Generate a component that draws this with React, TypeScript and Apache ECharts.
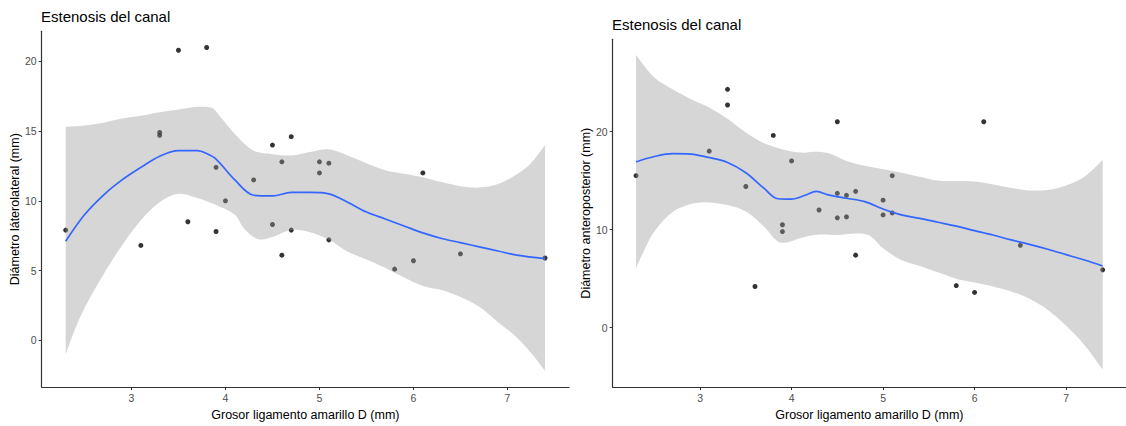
import React, { useEffect, useRef } from "react";
import * as echarts from "echarts";

const TITLE_TEXT = "Estenosis del canal";
const X_AXIS_NAME = "Grosor ligamento amarillo D (mm)";
const LEFT_Y_NAME = "Diámetro láterolateral (mm)";
const RIGHT_Y_NAME = "Diámetro anteroposterior (mm)";

const xTicks = [3, 4, 5, 6, 7];
const leftYTicks = [0, 5, 10, 15, 20];
const rightYTicks = [0, 10, 20];

const leftPoints: [number, number][] = [
  [2.3, 7.9], [3.1, 6.8], [3.3, 14.9], [3.3, 14.7], [3.5, 20.8], [3.6, 8.5],
  [3.8, 21.0], [3.9, 12.4], [3.9, 7.8], [4.0, 10.0], [4.3, 11.5], [4.5, 14.0],
  [4.5, 8.3], [4.6, 12.8], [4.6, 6.1], [4.7, 14.6], [4.7, 7.9], [5.0, 12.8],
  [5.0, 12.0], [5.1, 12.7], [5.1, 7.2], [5.8, 5.1], [6.0, 5.7], [6.1, 12.0],
  [6.5, 6.2], [7.4, 5.9],
];

const leftFit: [number, number][] = [
  [2.3, 7.1], [2.5, 9.0], [2.7, 10.4], [2.9, 11.5], [3.1, 12.4], [3.3, 13.2],
  [3.5, 13.6], [3.7, 13.6], [3.8, 13.4], [3.9, 13.0], [4.1, 11.5], [4.3, 10.4],
  [4.5, 10.35], [4.7, 10.6], [4.9, 10.6], [5.1, 10.5], [5.3, 9.9], [5.5, 9.2],
  [5.7, 8.7], [5.9, 8.2], [6.1, 7.7], [6.3, 7.3], [6.5, 7.0], [6.7, 6.7],
  [6.9, 6.4], [7.1, 6.1], [7.4, 5.85],
];

const leftUpper: [number, number][] = [
  [2.3, 15.3], [2.5, 15.4], [2.7, 15.6], [2.9, 15.9], [3.1, 16.1], [3.3, 16.35],
  [3.5, 16.55], [3.7, 16.75], [3.85, 16.7], [3.95, 16.0], [4.1, 14.8], [4.3, 13.6],
  [4.5, 13.35], [4.7, 13.25], [4.9, 13.5], [5.1, 13.7], [5.3, 13.25], [5.5, 12.7],
  [5.7, 12.2], [5.9, 11.95], [6.1, 11.7], [6.3, 11.35], [6.5, 11.05], [6.7, 10.95],
  [6.9, 11.2], [7.1, 11.9], [7.25, 12.7], [7.4, 14.0],
];

const leftLower: [number, number][] = [
  [2.3, -1.0], [2.4, 0.8], [2.5, 2.3], [2.7, 4.7], [2.9, 6.8], [3.1, 8.6],
  [3.3, 9.9], [3.5, 10.5], [3.7, 10.2], [3.9, 9.7], [4.1, 9.0], [4.2, 8.0],
  [4.35, 7.25], [4.5, 7.4], [4.7, 7.9], [4.9, 7.75], [5.1, 7.2], [5.3, 6.35],
  [5.5, 5.8], [5.7, 5.2], [5.9, 4.5], [6.1, 3.9], [6.3, 3.6], [6.5, 3.1],
  [6.7, 2.4], [6.9, 1.3], [7.1, 0.2], [7.25, -0.9], [7.4, -2.2],
];

const rightPoints: [number, number][] = [
  [2.3, 15.5], [3.1, 18.0], [3.3, 24.3], [3.3, 22.7], [3.5, 14.4], [3.6, 4.2],
  [3.8, 19.6], [3.9, 10.5], [3.9, 9.8], [4.0, 17.0], [4.3, 12.0], [4.5, 21.0],
  [4.5, 13.7], [4.5, 11.2], [4.6, 13.5], [4.6, 11.3], [4.7, 13.9], [4.7, 7.4],
  [5.0, 13.0], [5.0, 11.5], [5.1, 15.5], [5.1, 11.7], [5.8, 4.3], [6.0, 3.6],
  [6.1, 21.0], [6.5, 8.4], [7.4, 5.9],
];

const rightFit: [number, number][] = [
  [2.3, 16.9], [2.5, 17.45], [2.7, 17.75], [2.9, 17.7], [3.1, 17.35], [3.3, 16.85],
  [3.5, 15.8], [3.7, 14.2], [3.85, 13.15], [4.0, 13.1], [4.15, 13.5], [4.27, 13.9],
  [4.4, 13.55], [4.6, 13.2], [4.8, 12.85], [5.0, 12.1], [5.2, 11.5], [5.4, 11.15],
  [5.6, 10.75], [5.8, 10.35], [6.0, 9.9], [6.2, 9.45], [6.4, 8.95], [6.6, 8.5],
  [6.8, 8.0], [7.0, 7.45], [7.2, 6.9], [7.4, 6.3],
];

const rightUpper: [number, number][] = [
  [2.3, 27.8], [2.5, 25.5], [2.7, 24.3], [2.9, 23.3], [3.1, 22.45], [3.3, 21.3],
  [3.5, 19.9], [3.7, 18.8], [3.9, 18.2], [4.1, 17.85], [4.25, 17.95], [4.4, 17.8],
  [4.6, 17.0], [4.8, 16.5], [5.0, 16.15], [5.2, 15.8], [5.4, 15.4], [5.6, 15.0],
  [5.8, 14.95], [6.0, 14.9], [6.2, 14.6], [6.4, 14.25], [6.6, 14.0], [6.8, 14.05],
  [7.0, 14.5], [7.2, 15.4], [7.4, 17.1],
];

const rightLower: [number, number][] = [
  [2.3, 6.1], [2.4, 8.1], [2.5, 9.8], [2.7, 11.8], [2.9, 12.6], [3.05, 12.8],
  [3.3, 12.5], [3.5, 11.85], [3.7, 10.3], [3.85, 8.8], [3.95, 8.7], [4.1, 9.15],
  [4.3, 9.5], [4.5, 9.45], [4.7, 9.6], [4.85, 9.4], [5.0, 8.1], [5.2, 6.9],
  [5.4, 6.3], [5.6, 5.65], [5.8, 5.0], [6.0, 4.6], [6.2, 4.2], [6.4, 3.7],
  [6.6, 2.95], [6.8, 1.8], [7.0, 0.2], [7.2, -1.75], [7.4, -4.25],
];

const FONT = "'Liberation Sans', Arial, sans-serif";
const AXIS_COLOR = "#333333";
const TICK_LABEL_COLOR = "#4d4d4d";

function xAxisFor(gridIndex: number) {
  return {
    type: "value",
    gridIndex,
    min: 2.045,
    max: 7.655,
    name: X_AXIS_NAME,
    nameLocation: "middle",
    nameGap: 20,
    nameTextStyle: { color: "#000", fontSize: 12.5, fontFamily: FONT },
    axisLine: { show: true, onZero: false, lineStyle: { color: AXIS_COLOR, width: 1.2 } },
    axisTick: { show: true, length: 3, customValues: xTicks, lineStyle: { color: AXIS_COLOR } },
    axisLabel: { customValues: xTicks, color: TICK_LABEL_COLOR, fontSize: 10.5, margin: 5, fontFamily: FONT },
    splitLine: { show: false },
  };
}

function yAxisFor(gridIndex: number, min: number, max: number, ticks: number[], name: string) {
  return {
    type: "value",
    gridIndex,
    min,
    max,
    name,
    nameLocation: "middle",
    nameGap: 19,
    nameTextStyle: { color: "#000", fontSize: 12.5, fontFamily: FONT },
    axisLine: { show: true, onZero: false, lineStyle: { color: AXIS_COLOR, width: 1.2 } },
    axisTick: { show: true, length: 3, customValues: ticks, lineStyle: { color: AXIS_COLOR } },
    axisLabel: { customValues: ticks, color: TICK_LABEL_COLOR, fontSize: 10.5, margin: 5, fontFamily: FONT },
    splitLine: { show: false },
  };
}

function ribbonSeries(axisIndex: number, upper: [number, number][], lower: [number, number][]) {
  return {
    type: "custom",
    xAxisIndex: axisIndex,
    yAxisIndex: axisIndex,
    silent: true,
    z: 3,
    data: [[upper[0][0], upper[0][1]]],
    renderItem: (_params: any, api: any) => {
      const up = upper.map((p) => api.coord(p));
      const lo = lower.slice().reverse().map((p) => api.coord(p));
      const pts: number[][] = [];
      pts.push(up[0]);
      up.forEach((p) => pts.push(p));
      pts.push(up[up.length - 1]);
      pts.push(lo[0]);
      lo.forEach((p) => pts.push(p));
      pts.push(lo[lo.length - 1]);
      const xs = pts.map((p) => p[0]);
      const ys = pts.map((p) => p[1]);
      return {
        type: "polygon",
        shape: {
          points: pts,
          smooth: 0.35,
          smoothConstraint: [
            [Math.min(...xs), Math.min(...ys)],
            [Math.max(...xs), Math.max(...ys)],
          ],
        },
        style: { fill: "rgba(153,153,153,0.4)", stroke: "none" },
      };
    },
  };
}

function scatterSeries(axisIndex: number, data: [number, number][]) {
  return {
    type: "scatter",
    xAxisIndex: axisIndex,
    yAxisIndex: axisIndex,
    data,
    symbol: "circle",
    symbolSize: 5,
    itemStyle: { color: "#000000" },
    z: 2,
    silent: true,
  };
}

function fitSeries(axisIndex: number, data: [number, number][]) {
  return {
    type: "line",
    xAxisIndex: axisIndex,
    yAxisIndex: axisIndex,
    data,
    smooth: 0.35,
    showSymbol: false,
    symbol: "none",
    lineStyle: { color: "#3366FF", width: 1.7 },
    z: 4,
    silent: true,
  };
}

export default function App() {
  const ref = useRef<HTMLDivElement | null>(null);

  useEffect(() => {
    if (!ref.current) return;
    const chart = echarts.init(ref.current, undefined, { renderer: "svg" });
    chart.setOption({
      animation: false,
      backgroundColor: "#ffffff",
      textStyle: { fontFamily: FONT },
      title: [
        {
          text: TITLE_TEXT,
          left: 41,
          top: 9,
          padding: 0,
          textStyle: { color: "#000", fontSize: 15, fontWeight: "normal", fontFamily: FONT },
        },
        {
          text: TITLE_TEXT,
          left: 612,
          top: 17,
          padding: 0,
          textStyle: { color: "#000", fontSize: 15, fontWeight: "normal", fontFamily: FONT },
        },
      ],
      grid: [
        { left: 41.7, top: 31.3, width: 527.3, height: 359.4, containLabel: false },
        { left: 612.7, top: 39.3, width: 517.5, height: 352, containLabel: false },
      ],
      xAxis: [xAxisFor(0), xAxisFor(1)],
      yAxis: [
        yAxisFor(0, -3.36, 22.16, leftYTicks, LEFT_Y_NAME),
        yAxisFor(1, -6.05, 29.4, rightYTicks, RIGHT_Y_NAME),
      ],
      series: [
        scatterSeries(0, leftPoints),
        ribbonSeries(0, leftUpper, leftLower),
        fitSeries(0, leftFit),
        scatterSeries(1, rightPoints),
        ribbonSeries(1, rightUpper, rightLower),
        fitSeries(1, rightFit),
      ],
    });
    return () => chart.dispose();
  }, []);

  return (
    <div
      ref={ref}
      style={{ position: "fixed", left: 0, top: 0, width: 1126, height: 426, background: "#fff" }}
    />
  );
}
